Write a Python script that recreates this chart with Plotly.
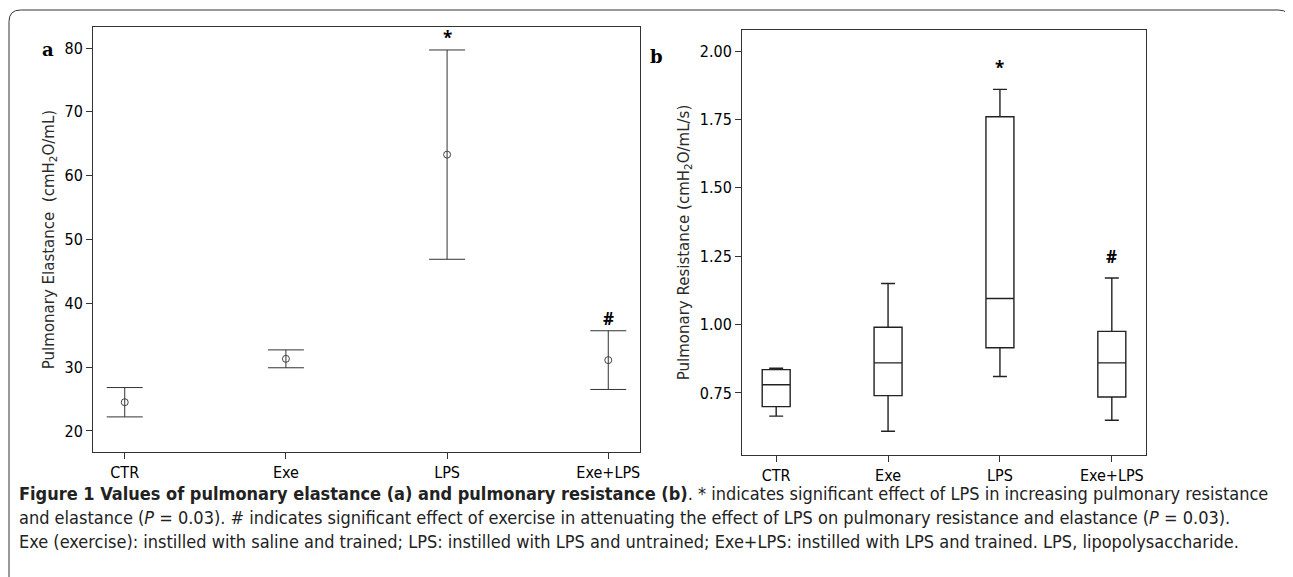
import plotly.graph_objects as go

groups = ['CTR', 'Exe', 'LPS', 'Exe+LPS']

# panel a: mean with error bars
elast_mean = [24.5, 31.3, 63.3, 31.1]
elast_low = [22.2, 29.9, 46.9, 26.5]
elast_high = [26.8, 32.7, 79.7, 35.7]
elast_marks = ['', '', '*', '#']

# panel b: box plot stats
res_min = [0.665, 0.61, 0.81, 0.65]
res_q1 = [0.70, 0.74, 0.915, 0.735]
res_med = [0.78, 0.86, 1.095, 0.86]
res_q3 = [0.835, 0.99, 1.76, 0.975]
res_max = [0.84, 1.15, 1.86, 1.17]
res_marks = ['', '', '*', '#']

W, H = 1293, 577
OFF = 8


def px(x):
    return (x - OFF) / W


def py(y):
    return 1 - (y - OFF) / H


fig = go.Figure()

fig.add_trace(go.Scatter(
    x=groups, y=elast_mean, mode='markers',
    marker=dict(symbol='circle-open', size=7, color='#444', line=dict(width=1)),
    error_y=dict(type='data', symmetric=False,
                 array=[h - m for h, m in zip(elast_high, elast_mean)],
                 arrayminus=[m - l for m, l in zip(elast_mean, elast_low)],
                 color='#333', thickness=1, width=18),
    xaxis='x', yaxis='y', showlegend=False))

fig.add_trace(go.Box(
    x=groups, q1=res_q1, median=res_med, q3=res_q3,
    lowerfence=res_min, upperfence=res_max,
    fillcolor='white', line=dict(color='#222', width=1.4), whiskerwidth=0.5,
    width=0.25, xaxis='x2', yaxis='y2', showlegend=False))

# significance marks
for g, hi, m in zip(groups, elast_high, elast_marks):
    if m:
        fig.add_annotation(x=g, y=hi, text='<b>' + m + '</b>', showarrow=False,
                           yshift=12, xref='x', yref='y', font=dict(size=17, color='black'))
for g, hi, m in zip(groups, res_max, res_marks):
    if m:
        fig.add_annotation(x=g, y=hi, text='<b>' + m + '</b>', showarrow=False,
                           yshift=22, xref='x2', yref='y2', font=dict(size=17, color='black'))

tickfont = dict(family='DejaVu Sans Condensed, Liberation Sans Narrow', size=16, color='black')
axcommon = dict(showline=True, mirror=True, linecolor='#333', linewidth=1,
                showgrid=False, zeroline=False, ticks='outside', ticklen=6,
                tickcolor='#333', tickfont=tickfont)
titlefont = dict(family='DejaVu Sans', size=15, color='#2a2a2a')

fig.update_layout(
    width=W, height=H, margin=dict(l=0, r=0, t=0, b=0),
    plot_bgcolor='white', paper_bgcolor='white',
    xaxis=dict(domain=[px(93), px(640)], anchor='y', **axcommon),
    yaxis=dict(domain=[py(452), py(27)], range=[16.7, 83.3], anchor='x',
               tickvals=[20, 30, 40, 50, 60, 70, 80],
               title=dict(text='Pulmonary Elastance  (cmH<sub>2</sub>O/mL)',
                          font=titlefont, standoff=6),
               **axcommon),
    xaxis2=dict(domain=[px(742), px(1146)], anchor='y2', **axcommon),
    yaxis2=dict(domain=[py(455), py(30)], range=[0.523, 2.077], anchor='x2',
                tickvals=[0.75, 1.0, 1.25, 1.5, 1.75, 2.0], tickformat='.2f',
                title=dict(text='Pulmonary Resistance (cmH<sub>2</sub>O/mL/s)',
                           font=titlefont, standoff=6),
                **axcommon),
)

# panel letters
fig.add_annotation(x=px(40), y=py(37), xref='paper', yref='paper', text='<b>a</b>',
                   showarrow=False, font=dict(family='DejaVu Serif', size=18, color='black'))
fig.add_annotation(x=px(656), y=py(44), xref='paper', yref='paper', text='<b>b</b>',
                   showarrow=False, font=dict(family='DejaVu Serif', size=18, color='black'))

# frame (open at the bottom)
x0, x1, yt, yb = px(9), px(1290), py(10), py(590)
fig.add_shape(type='path', xref='paper', yref='paper',
              path=f'M {x0},{yb} L {x0},{yt - 0.02} Q {x0},{yt} {x0 + 0.009},{yt} '
                   f'L {x1 - 0.009},{yt} Q {x1},{yt} {x1},{yt - 0.02} L {x1},{yb}',
              line=dict(color='#333', width=1))

capfont = dict(family='DejaVu Sans Condensed', size=18, color='#222')
caption = [
    '<b>Figure 1 Values of pulmonary elastance (a) and pulmonary resistance (b)</b>. * indicates significant effect of LPS in increasing pulmonary resistance',
    'and elastance (<i>P</i> = 0.03). # indicates significant effect of exercise in attenuating the effect of LPS on pulmonary resistance and elastance (<i>P</i> = 0.03).',
    'Exe (exercise): instilled with saline and trained; LPS: instilled with LPS and untrained; Exe+LPS: instilled with LPS and trained. LPS, lipopolysaccharide.',
]
for i, line in enumerate(caption):
    fig.add_annotation(x=px(17), y=py(493 + i * 24), xref='paper', yref='paper',
                       text=line, showarrow=False, xanchor='left', yanchor='middle',
                       font=capfont)

fig.write_html('out.html')
